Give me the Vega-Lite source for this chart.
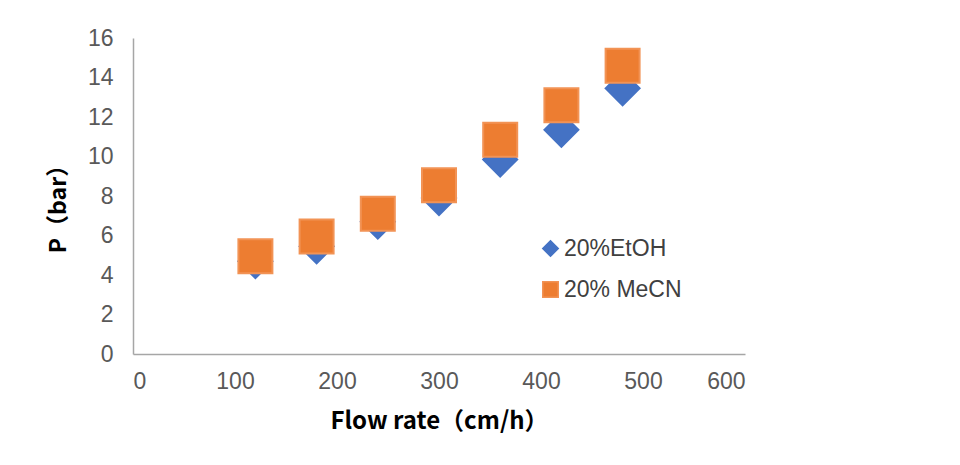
{
  "$schema": "https://vega.github.io/schema/vega-lite/v6.json",
  "width": 612,
  "height": 316,
  "autosize": "none",
  "padding": {"left": 133, "top": 38, "right": 215, "bottom": 111},
  "background": "white",
  "config": {
    "view": {"stroke": null},
    "font": "Liberation Sans"
  },
  "data": {
    "values": [
      {"flow": 120, "p": 4.7, "solvent": "20%EtOH"},
      {"flow": 180, "p": 5.45, "solvent": "20%EtOH"},
      {"flow": 240, "p": 6.7, "solvent": "20%EtOH"},
      {"flow": 300, "p": 7.9, "solvent": "20%EtOH"},
      {"flow": 360, "p": 9.85, "solvent": "20%EtOH"},
      {"flow": 420, "p": 11.35, "solvent": "20%EtOH"},
      {"flow": 480, "p": 13.45, "solvent": "20%EtOH"},
      {"flow": 120, "p": 4.95, "solvent": "20% MeCN"},
      {"flow": 180, "p": 5.95, "solvent": "20% MeCN"},
      {"flow": 240, "p": 7.1, "solvent": "20% MeCN"},
      {"flow": 300, "p": 8.55, "solvent": "20% MeCN"},
      {"flow": 360, "p": 10.85, "solvent": "20% MeCN"},
      {"flow": 420, "p": 12.6, "solvent": "20% MeCN"},
      {"flow": 480, "p": 14.6, "solvent": "20% MeCN"}
    ]
  },
  "mark": {"type": "point", "filled": true, "size": 1156, "opacity": 1},
  "encoding": {
    "x": {
      "field": "flow",
      "type": "quantitative",
      "scale": {"domain": [0, 600], "nice": false},
      "axis": {
        "title": "Flow rate（cm/h）",
        "titleFont": "Noto Sans CJK SC",
        "titleFontSize": 24,
        "titleFontWeight": "bold",
        "titleColor": "#000000",
        "titlePadding": 16,
        "values": [0, 100, 200, 300, 400, 500, 600],
        "labelFontSize": 23,
        "labelColor": "#595959",
        "labelPadding": 16,
        "ticks": false,
        "tickSize": 0,
        "grid": false,
        "domainColor": "#A6A6A6",
        "domainWidth": 1.5
      }
    },
    "y": {
      "field": "p",
      "type": "quantitative",
      "scale": {"domain": [0, 16], "nice": false},
      "axis": {
        "title": "P（bar）",
        "titleFont": "Noto Sans CJK SC",
        "titleFontSize": 23,
        "titleFontWeight": "bold",
        "titleColor": "#000000",
        "titlePadding": 17,
        "titleY": 165,
        "values": [0, 2, 4, 6, 8, 10, 12, 14, 16],
        "labelFontSize": 23,
        "labelColor": "#595959",
        "labelPadding": 20,
        "ticks": false,
        "tickSize": 0,
        "grid": false,
        "domainColor": "#A6A6A6",
        "domainWidth": 1.5
      }
    },
    "color": {
      "field": "solvent",
      "type": "nominal",
      "scale": {"domain": ["20%EtOH", "20% MeCN"], "range": ["#4472C4", "#ED7D31"]},
      "legend": {
        "title": null,
        "orient": "none",
        "legendX": 406,
        "legendY": 199,
        "symbolSize": 240,
        "labelFontSize": 23,
        "labelColor": "#404040",
        "labelOffset": 2,
        "rowPadding": 17,
        "symbolOpacity": 1
      }
    },
    "shape": {
      "field": "solvent",
      "type": "nominal",
      "scale": {"domain": ["20%EtOH", "20% MeCN"], "range": ["diamond", "square"]}
    },
    "stroke": {
      "field": "solvent",
      "type": "nominal",
      "scale": {"domain": ["20%EtOH", "20% MeCN"], "range": ["#4472C4", "#F29355"]},
      "legend": null
    },
    "order": {"field": "solvent", "sort": "descending"}
  }
}
